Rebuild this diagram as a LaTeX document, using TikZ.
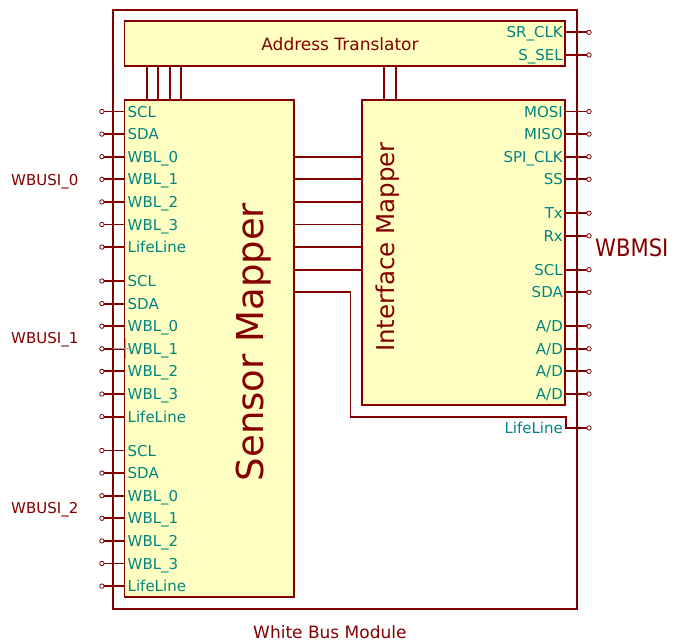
\documentclass[tikz,border=0pt]{standalone}
\usepackage{fontspec}
\usepackage{graphicx}
\setmainfont{DejaVu Sans}
\definecolor{kred}{RGB}{132,0,0}
\definecolor{kteal}{RGB}{0,132,132}
\definecolor{kfill}{RGB}{255,255,194}
\newcommand{\adlabel}{A/D}
\begin{document}
\begin{tikzpicture}[x=1pt,y=-1pt,
  wire/.style={kred,line width=1.9pt},
  boxshape/.style={draw=kred,line width=1.9pt,fill=kfill,inner sep=0pt,outer sep=0pt,anchor=north west},
  pinend/.style={circle,draw=kred,fill=white,line width=0.8pt,inner sep=0pt,minimum size=4.4pt,outer sep=0pt},
  pinname/.style={text=kteal,font=\fontsize{15}{18}\selectfont,inner sep=0pt},
  lbl/.style={text=kred,inner sep=0pt}]
\useasboundingbox (0,0) rectangle (675,643);
% boxes
\node[draw=kred,line width=1.9pt,inner sep=0pt,outer sep=0pt,anchor=north west,minimum width=464.1pt,minimum height=598.9pt] (module) at (113.2,9.8) {};
\node[boxshape,minimum width=440.7pt,minimum height=45.2pt] (addr) at (124.5,21.1) {};
\node[boxshape,minimum width=169.5pt,minimum height=497.2pt] (sensor) at (124.5,100.2) {};
\node[boxshape,minimum width=203.4pt,minimum height=305.1pt] (iface) at (361.8,100.2) {};
% box titles
\node[lbl,font=\fontsize{17}{20}\selectfont] (addrlbl) at (340,44) {Address Translator};
\node[lbl,font=\fontsize{37}{40}\selectfont,rotate=90,anchor=base] (senslbl) at (263,342) {Sensor Mapper};
\node[lbl,font=\fontsize{24.5}{28}\selectfont,rotate=90,anchor=base] (ifacelbl) at (394,247) {Interface Mapper};
% address translator buses
\foreach \x [count=\j] in {147.1,158.4,169.7,181.0} {
  \coordinate (bs\j) at (\x,0);
  \draw[wire] (addr.south -| bs\j) -- (sensor.north -| bs\j);
}
\foreach \x [count=\j] in {384.4,395.7} {
  \coordinate (bi\j) at (\x,0);
  \draw[wire] (addr.south -| bi\j) -- (iface.north -| bi\j);
}
% sensor -> interface links
\foreach \k in {2,...,7} {
  \pgfmathsetmacro\yy{111.5+22.6*\k}
  \coordinate (lk\k) at (0,\yy);
  \draw[wire] (sensor.east |- lk\k) -- (iface.west |- lk\k);
}
% left pins
\foreach \g/\kk in {0/0,1/7.5,2/15} {
  \foreach \n [count=\i from 0] in {SCL,SDA,WBL\_0,WBL\_1,WBL\_2,WBL\_3,LifeLine} {
    \pgfmathsetmacro\yy{111.5+22.6*(\kk+\i)}
    \node[pinend] (L\g-\i) at (101.9,\yy) {};
    \draw[wire] (L\g-\i) -- (sensor.west |- L\g-\i);
    \node[pinname,anchor=base west] (Ln\g-\i) at (127.5,\yy+5.5) {\n};
  }
}
% highlighted pin artifact
\draw[gray!70,line width=1.2pt] (113.2,348.8) -- (134,348.8);
\draw[gray!70,line width=0.8pt] (125,338) -- (125,359);
% right pins of interface mapper
\foreach \n/\k [count=\i] in {MOSI/0,MISO/1,SPI\_CLK/2,SS/3,Tx/4.5,Rx/5.5,SCL/7,SDA/8,\adlabel/9.5,\adlabel/10.5,\adlabel/11.5,\adlabel/12.5} {
  \pgfmathsetmacro\yy{111.5+22.6*\k}
  \node[pinend] (R\i) at (589,\yy) {};
  \draw[wire] (iface.east |- R\i) -- (R\i);
  \node[pinname,anchor=base east] (Rn\i) at (563,\yy+5.5) {\n};
}
% address translator pins
\node[pinend] (srclk) at (589,32.4) {};
\node[pinend] (ssel) at (589,55.0) {};
\draw[wire] (addr.east |- srclk) -- (srclk);
\draw[wire] (addr.east |- ssel) -- (ssel);
\node[pinname,anchor=base east] (srclkn) at (563,37.9) {SR\_CLK};
\node[pinname,anchor=base east] (sseln) at (563,60.5) {S\_SEL};
% lifeline output
\node[pinend] (lifeout) at (589,427.9) {};
\coordinate (llstart) at (0,292.3);
\draw[wire] (sensor.east |- llstart) -- (350.5,292.3) -- (350.5,416.6) -- (565.7,416.6) -- (565.7,427.9) -- (lifeout);
\node[pinname,anchor=base east] (lifeoutn) at (563,433.4) {LifeLine};
% group labels
\node[lbl,font=\fontsize{15}{18}\selectfont,anchor=base west] (wb0) at (11,185.5) {WBUSI\_0};
\node[lbl,font=\fontsize{15}{18}\selectfont,anchor=base west] (wb1) at (11,343.5) {WBUSI\_1};
\node[lbl,font=\fontsize{15}{18}\selectfont,anchor=base west] (wb2) at (11,513.5) {WBUSI\_2};
\node[lbl,font=\fontsize{24}{28}\selectfont,anchor=base west] (wbmsi) at (595,256.5) {\scalebox{0.88}[1]{WBMSI}};
\node[lbl,font=\fontsize{17}{20}\selectfont,anchor=base west] (title) at (253,638.5) {White Bus Module};
\end{tikzpicture}
\end{document}
